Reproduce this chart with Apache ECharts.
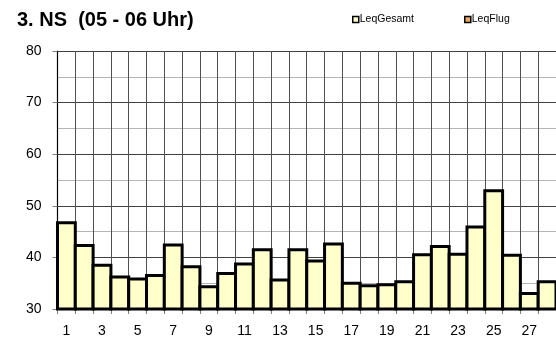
<!DOCTYPE html>
<html>
<head>
<meta charset="utf-8">
<script src="https://cdn.jsdelivr.net/npm/echarts@6/dist/echarts.min.js"></script>
<style>
  html, body { margin: 0; padding: 0; background: #fff; }
  #chart { width: 556px; height: 340px; }
</style>
</head>
<body>
<div id="chart"></div>
<script>
// Nights of the month (x categories)
const days = ['1','2','3','4','5','6','7','8','9','10','11','12','13','14',
              '15','16','17','18','19','20','21','22','23','24','25','26','27','28'];

// Total equivalent level, dB(A), 05-06 h
const leqGesamt = [46.7, 42.3, 38.5, 36.2, 35.8, 36.5, 42.4, 38.2, 34.3, 36.9,
                   38.7, 41.5, 35.6, 41.5, 39.3, 42.6, 35.0, 34.5, 34.7, 35.3,
                   40.5, 42.1, 40.6, 45.9, 52.9, 40.4, 33.0, 35.3];

// Aircraft equivalent level (no values in this hour)
const leqFlug = [];

// Y axis range
const yMin = 30;
const yMax = 80;
const yStep = 10;

const FONT = 'Liberation Sans, Arial, sans-serif';

// Column spanning the whole category band, from the axis floor up to the value
function fullBandBar(params, api) {
  const top = api.coord([api.value(0), api.value(1)]);
  const floor = api.coord([api.value(0), yMin]);
  const w = api.size([1, 0])[0];
  return {
    type: 'rect',
    shape: { x: top[0] - w / 2, y: top[1], width: w, height: floor[1] - top[1] },
    style: api.style({ fill: '#ffffcc', stroke: '#000', lineWidth: 3 })
  };
}

const chart = echarts.init(document.getElementById('chart'), null, { renderer: 'canvas' });

chart.setOption({
  animation: false,
  backgroundColor: '#ffffff',
  title: {
    text: '3. NS  (05 - 06 Uhr)',
    left: 12,
    top: 5,
    textStyle: { fontFamily: FONT, fontSize: 20, fontWeight: 'bold', color: '#000' }
  },
  legend: {
    left: 347,
    top: 9,
    itemGap: 50,
    itemWidth: 6,
    itemHeight: 6,
    icon: 'rect',
    textStyle: { fontFamily: FONT, fontSize: 10.5, color: '#000', padding: [0, 0, 0, -4] },
    data: [
      { name: 'LeqGesamt', itemStyle: { color: '#ffffcc', borderColor: '#000', borderWidth: 1.5 } },
      { name: 'LeqFlug', itemStyle: { color: '#f0a860', borderColor: '#000', borderWidth: 1.5 } }
    ]
  },
  grid: { left: 57.5, right: -2, top: 51, bottom: 31 },
  xAxis: {
    type: 'category',
    data: days,
    boundaryGap: true,
    axisLine: { show: true, lineStyle: { color: '#000', width: 1 } },
    axisTick: { show: true, interval: 0, length: 5, lineStyle: { color: '#808080' } },
    axisLabel: { interval: 1, margin: 15, fontFamily: FONT, fontSize: 14, color: '#000' },
    splitLine: { show: true, interval: 0, lineStyle: { color: '#505050', width: 1 } }
  },
  yAxis: {
    type: 'value',
    min: yMin,
    max: yMax,
    interval: yStep,
    axisLine: { show: true, lineStyle: { color: '#000', width: 1.2 } },
    axisTick: { show: true, length: 5, lineStyle: { color: '#808080' } },
    axisLabel: { margin: 16, fontFamily: FONT, fontSize: 14, color: '#000' },
    splitLine: { show: true, lineStyle: { color: '#404040', width: 1 } },
    minorTick: { show: false, splitNumber: 2 },
    minorSplitLine: { show: true, lineStyle: { color: '#b4b4b4', width: 1 } }
  },
  series: [
    {
      name: 'LeqGesamt',
      type: 'custom',
      renderItem: fullBandBar,
      encode: { x: 0, y: 1 },
      data: leqGesamt.map((v, i) => [i, v]),
      itemStyle: { color: '#ffffcc', borderColor: '#000', borderWidth: 3 },
      z: 3
    },
    {
      // empty in this hour; kept for the legend entry
      name: 'LeqFlug',
      type: 'bar',
      data: leqFlug,
      itemStyle: { color: '#f0a860' }
    }
  ]
});
</script>
</body>
</html>
